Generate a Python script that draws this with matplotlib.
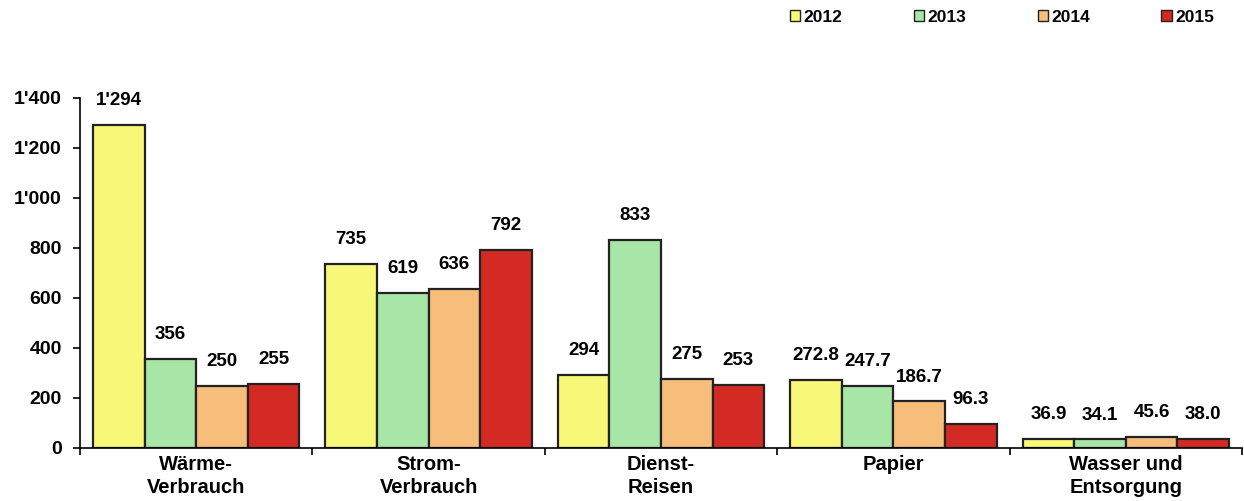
import matplotlib
matplotlib.use("Agg")
import matplotlib.pyplot as plt
import numpy as np
from matplotlib.patches import Rectangle

categories = ["Wärme-\nVerbrauch", "Strom-\nVerbrauch", "Dienst-\nReisen", "Papier", "Wasser und\nEntsorgung"]
years = ["2012", "2013", "2014", "2015"]
v2012 = [1294, 735, 294, 272.8, 36.9]
v2013 = [356, 619, 833, 247.7, 34.1]
v2014 = [250, 636, 275, 186.7, 45.6]
v2015 = [255, 792, 253, 96.3, 38.0]
labels2012 = ["1'294", "735", "294", "272.8", "36.9"]
labels2013 = ["356", "619", "833", "247.7", "34.1"]
labels2014 = ["250", "636", "275", "186.7", "45.6"]
labels2015 = ["255", "792", "253", "96.3", "38.0"]
yticks = [0, 200, 400, 600, 800, 1000, 1200, 1400]
yticklabels = ["0", "200", "400", "600", "800", "1'000", "1'200", "1'400"]

series = [v2012, v2013, v2014, v2015]
series_labels = [labels2012, labels2013, labels2014, labels2015]
colors = ["#F8F878", "#A8E6A8", "#F6BE7A", "#D42A24"]

plt.rcParams['font.family'] = ['Liberation Sans Narrow', 'Liberation Sans', 'DejaVu Sans']
plt.rcParams['font.weight'] = 'bold'

fig = plt.figure(figsize=(12.44, 5.01), dpi=100)
ax = fig.add_axes([80/1244, 1-448/501, (1242-80)/1244, 350/501])

n = len(categories)
x = np.arange(n)
bw = 0.222
for i, (vals, labs, c) in enumerate(zip(series, series_labels, colors)):
    pos = x + (i - 1.5) * bw
    ax.bar(pos, vals, width=bw, color=c, edgecolor="#222222", linewidth=1.6, zorder=2)
    for p, v, l in zip(pos, vals, labs):
        ax.annotate(l, (p, v), xytext=(0, 17.5), textcoords="offset points",
                    ha="center", va="center", fontsize=13.5, fontweight="bold")

ax.set_xlim(-0.5, n - 0.5)
ax.set_ylim(0, 1400)
ax.set_yticks(yticks)
ax.set_yticklabels(yticklabels, fontsize=14, fontweight="bold")
ax.set_xticks(np.arange(n + 1) - 0.5, minor=False)
ax.set_xticklabels([])
ax.set_xticks(x, minor=True)
ax.set_xticklabels(categories, minor=True, fontsize=14.5, fontweight="bold", linespacing=1.25)
ax.tick_params(axis="x", which="minor", length=0, pad=5)
ax.tick_params(axis="x", which="major", direction="out", length=5, width=1.2)
ax.tick_params(axis="y", direction="out", length=5, width=1.2, pad=8)
for s in ["top", "right"]:
    ax.spines[s].set_visible(False)
ax.spines["left"].set_linewidth(1.2)
ax.spines["bottom"].set_linewidth(1.2)

handles = [Rectangle((0, 0), 1, 1, facecolor=c, edgecolor="#222222", linewidth=1.0) for c in colors]
leg = fig.legend(handles, years, loc="center", bbox_to_anchor=(1002/1244, 1-17/501), ncol=4,
                 frameon=False, fontsize=12.5, handlelength=0.6, handleheight=0.6,
                 handletextpad=0.2, columnspacing=4.1)
for t in leg.get_texts():
    t.set_fontweight("bold")

fig.savefig("out.png", dpi=100)
